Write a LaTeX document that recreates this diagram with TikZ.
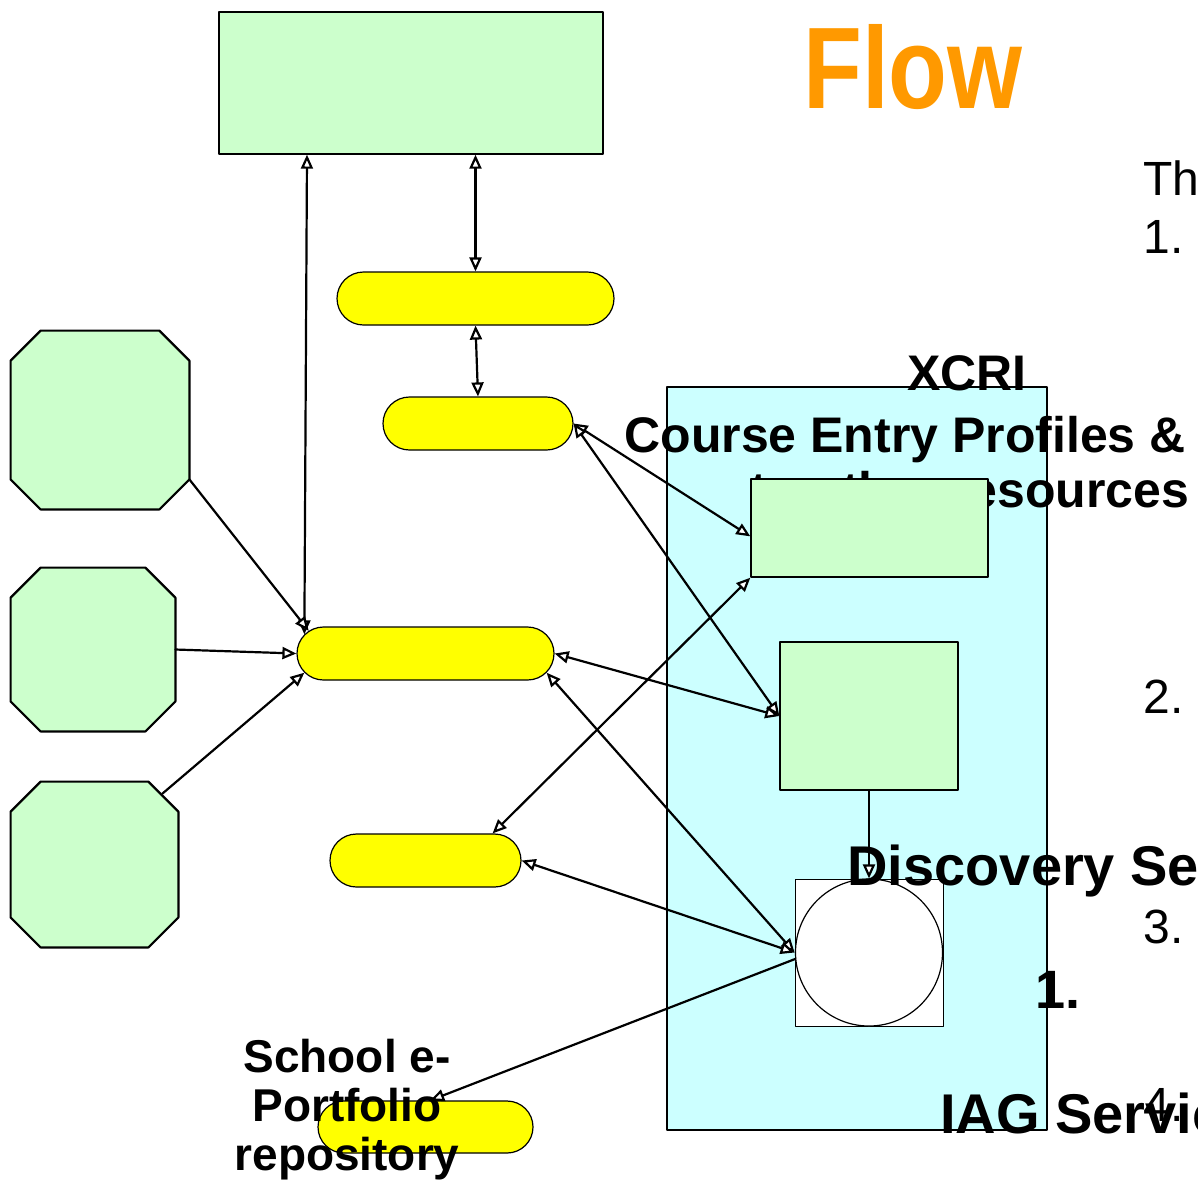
\documentclass[tikz,border=0pt]{standalone}
\usepackage{fontspec}
\setmainfont{Liberation Sans}
\usetikzlibrary{positioning,shapes.misc,arrows.meta}

\definecolor{boxgreen}{HTML}{CCFFCC}
\definecolor{pillyellow}{HTML}{FFFF00}
\definecolor{panelcyan}{HTML}{CCFFFF}
\definecolor{titleorange}{HTML}{FF9900}

\begin{document}
\begin{tikzpicture}[x=0.5pt, y=-0.5pt, line cap=round, line join=round]
	\useasboundingbox (0,0) rectangle (1198,1185);
	
	% ---- styles ----
	\tikzset{
		wtip/.tip={Triangle[fill=white, length=7pt, width=6pt]},
		arr/.style={-wtip, line width=1.1pt},
		darr/.style={wtip-wtip, line width=1.1pt},
		gbox/.style={rectangle, draw=black, line width=0.7pt, fill=boxgreen, inner sep=0pt},
		pill/.style={rounded rectangle, draw=black, line width=0.6pt, fill=pillyellow,
			inner sep=0pt, minimum height=26.5pt},
		octbox/.style={rectangle, inner sep=0pt},
		octline/.style={draw=black, line width=1.1pt, fill=boxgreen},
		lbl/.style={font=\fontsize{25}{30}\selectfont\bfseries, inner sep=0pt},
		big/.style={font=\fontsize{28}{32}\selectfont\bfseries, inner sep=0pt, anchor=base west},
		num/.style={font=\fontsize{24}{28}\selectfont, inner sep=0pt, anchor=base west}
	}
	
	% ---- left part: boxes and pills ----
	\node[gbox, minimum width=192pt, minimum height=71pt] (hub) at (411,83) {};
	\node[pill, minimum width=138.5pt] (pillA) at (475.5,298.5) {};
	\node[pill, minimum width=95pt] (pillB) at (478,423.5) {};
	\node[pill, minimum width=128.5pt] (pillC) at (425.5,653.5) {};
	\node[pill, minimum width=95.5pt] (pillD) at (425.5,860.5) {};
	\node[pill, minimum width=107.5pt, minimum height=26pt] (pillE) at (425.5,1127) {};
	
	\node[octbox, minimum width=89pt, minimum height=89pt] (octA) at (100,420) {};
	\node[octbox, minimum width=82pt, minimum height=81.5pt] (octB) at (93,649.5) {};
	\node[octbox, minimum width=83.5pt, minimum height=82.5pt] (octC) at (94.5,864.5) {};
	% octagons: corners cut by 15pt
	\foreach \o in {octA,octB,octC}{
		\draw[octline] ([xshift=15pt]\o.north west) -- ([xshift=-15pt]\o.north east)
		-- ([yshift=-15pt]\o.north east) -- ([yshift=15pt]\o.south east)
		-- ([xshift=-15pt]\o.south east) -- ([xshift=15pt]\o.south west)
		-- ([yshift=15pt]\o.south west) -- ([yshift=-15pt]\o.north west) -- cycle;
	}
	
	% ---- right panel ----
	\node[rectangle, draw=black, line width=0.7pt, fill=panelcyan, inner sep=0pt,
	minimum width=190pt, minimum height=371.5pt] (xcri) at (857,758.5) {};
	
	\node[lbl, anchor=base] (xcriT) at (967,390) {XCRI};
	\node[lbl, anchor=base west] (courseT) at (624,452) {Course Entry Profiles \&};
	\node[lbl, anchor=base west] (resT) at (750,507) {to other resources};
	
	\node[gbox, minimum width=118.5pt, minimum height=49pt] (course) at (869.5,528) {};
	\node[gbox, minimum width=89pt, minimum height=74pt] (disc) at (869,716) {};
	\node[rectangle, draw=black, line width=0.4pt, fill=white, inner sep=0pt,
	minimum width=74pt, minimum height=73.5pt] (iag) at (869,952.5) {};
	\node[circle, draw=black, line width=0.6pt, fill=white, inner sep=0pt,
	minimum size=73.5pt] (iagc) at (869,952.5) {};
	
	% ---- texts ----
	\node[num] (thT) at (1143,195) {Th};
	\node[num] (numA) at (1143,253) {1.};
	\node[num] (numB) at (1143,713) {2.};
	\node[num] (numC) at (1143,943) {3.};
	\node[num] (numD) at (1143,1121) {4.};
	
	\node[big] (discT) at (847,885) {Discovery Services};
	\node[big, font=\fontsize{27}{32}\selectfont\bfseries] (oneT) at (1035,1008) {1.};
	\node[big] (iagT) at (940,1133) {IAG Services};
	
	\node[font=\fontsize{23}{24.5}\selectfont\bfseries, align=center, inner sep=0pt, anchor=north]
	(schoolT) at (347,1039) {School e-\\Portfolio\\repository};
	
	\node[font=\fontsize{58}{60}\selectfont\bfseries, text=titleorange, xscale=0.83,
	inner sep=0pt, anchor=base west] (flowT) at (803,108) {Flow};
	
	% ---- connectors ----
	\draw[darr] ([xshift=-52pt]hub.south) -- (pillC.171);
	\draw[darr] (hub.south -| pillA.north) -- (pillA.north);
	\draw[darr] (pillA.south) -- (pillB.north);
	
	\draw[arr] ([yshift=15pt]octA.south east) -- (pillC.169);
	\draw[arr] (octB.east) -- (pillC.west);
	\draw[arr] ([xshift=-8pt,yshift=-6pt]octC.north east) -- (pillC.189);
	
	\draw[darr] (pillB.east) -- (course.184);
	\draw[darr] (pillB.east) -- (disc.west);
	\draw[darr] (pillC.east) -- (disc.west);
	\draw[darr] (pillC.-9) -- (iag.west);
	\draw[darr] (pillD.22) -- (course.south west);
	\draw[darr] (pillD.east) -- (iag.west);
	\draw[arr] (iagc.185) -- (pillE.80);
	\draw[arr] (disc.south) -- (iagc.north);
\end{tikzpicture}
\end{document}
